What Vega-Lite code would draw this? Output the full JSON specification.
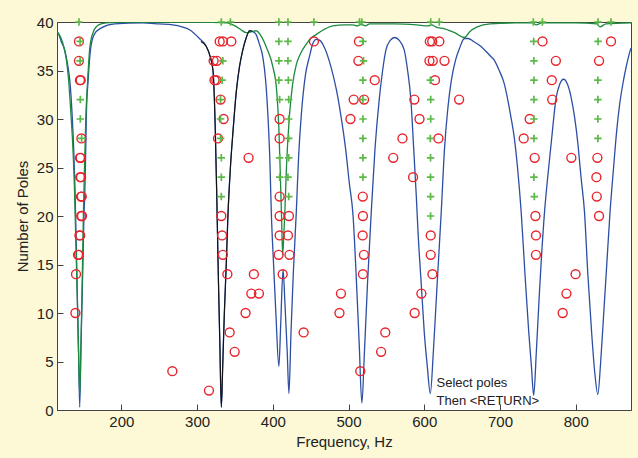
{
  "$schema": "https://vega.github.io/schema/vega-lite/v6.json",
  "width": 574,
  "height": 388,
  "autosize": {"type": "none"},
  "padding": {"left": 57, "top": 22, "right": 7, "bottom": 48},
  "background": "#fdf8d6",
  "config": {
    "view": {"fill": "white", "stroke": "#444", "strokeWidth": 1},
    "font": "Liberation Sans",
    "axis": {"grid": false, "domainColor": "#444", "tickColor": "#444", "labelColor": "#222", "titleColor": "#222", "labelFontSize": 15, "titleFontSize": 15, "titleFontWeight": "normal", "tickSize": -6, "labelFont": "Liberation Sans", "titleFont": "Liberation Sans"}
  },
  "datasets": {
    "curves": [
      {"series":"blue","freq":115,"poles":39.1},{"series":"blue","freq":117,"poles":38.8},{"series":"blue","freq":121,"poles":37.9},{"series":"blue","freq":124.4,"poles":37.3},{"series":"blue","freq":129,"poles":35.6},{"series":"blue","freq":132,"poles":33.9},{"series":"blue","freq":135,"poles":30.4},{"series":"blue","freq":137,"poles":27},{"series":"blue","freq":138.5,"poles":23.5},{"series":"blue","freq":139.6,"poles":20},{"series":"blue","freq":141,"poles":15},{"series":"blue","freq":142.3,"poles":10},{"series":"blue","freq":143.7,"poles":5},{"series":"blue","freq":145,"poles":0.3},{"series":"blue","freq":146.5,"poles":6},{"series":"blue","freq":148,"poles":11},{"series":"blue","freq":149.5,"poles":16},{"series":"blue","freq":150.6,"poles":20},{"series":"blue","freq":151.6,"poles":22},{"series":"blue","freq":153,"poles":27},{"series":"blue","freq":153.8,"poles":30.5},{"series":"blue","freq":156,"poles":33.9},{"series":"blue","freq":159.5,"poles":37.3},{"series":"blue","freq":164,"poles":38.7},{"series":"blue","freq":173.6,"poles":39.4},{"series":"blue","freq":191,"poles":39.8},{"series":"blue","freq":228,"poles":39.9},{"series":"blue","freq":250,"poles":39.8},{"series":"blue","freq":268,"poles":39.7},{"series":"blue","freq":280,"poles":39.5},{"series":"blue","freq":290,"poles":39.2},{"series":"blue","freq":303,"poles":38.3},{"series":"blue","freq":312,"poles":37.5},{"series":"blue","freq":317,"poles":36.5},{"series":"blue","freq":321,"poles":35},{"series":"blue","freq":324,"poles":29},{"series":"blue","freq":326,"poles":22},{"series":"blue","freq":328,"poles":14},{"series":"blue","freq":330,"poles":7},{"series":"blue","freq":332,"poles":0.3},{"series":"blue","freq":334,"poles":5},{"series":"blue","freq":336,"poles":10},{"series":"blue","freq":338.5,"poles":15},{"series":"blue","freq":340.7,"poles":20},{"series":"blue","freq":344,"poles":25},{"series":"blue","freq":347.3,"poles":28.6},{"series":"blue","freq":352,"poles":33},{"series":"blue","freq":356,"poles":35.4},{"series":"blue","freq":360,"poles":37},{"series":"blue","freq":365,"poles":38.4},{"series":"blue","freq":369.4,"poles":39.1},{"series":"blue","freq":374,"poles":39},{"series":"blue","freq":378,"poles":38.7},{"series":"blue","freq":382,"poles":37.8},{"series":"blue","freq":387,"poles":36.3},{"series":"blue","freq":390.5,"poles":34},{"series":"blue","freq":393.5,"poles":30.4},{"series":"blue","freq":396,"poles":26},{"series":"blue","freq":398,"poles":20.4},{"series":"blue","freq":401,"poles":15},{"series":"blue","freq":404,"poles":10},{"series":"blue","freq":408,"poles":4.5},{"series":"blue","freq":410.5,"poles":9},{"series":"blue","freq":413.5,"poles":14.5},{"series":"blue","freq":416,"poles":11},{"series":"blue","freq":419,"poles":6},{"series":"blue","freq":421.3,"poles":1.7},{"series":"blue","freq":424,"poles":8},{"series":"blue","freq":427,"poles":14},{"series":"blue","freq":431,"poles":20.4},{"series":"blue","freq":434,"poles":26},{"series":"blue","freq":437.6,"poles":30.4},{"series":"blue","freq":443,"poles":34.5},{"series":"blue","freq":448.6,"poles":36.5},{"series":"blue","freq":453,"poles":37.8},{"series":"blue","freq":457.4,"poles":38.2},{"series":"blue","freq":462,"poles":38.1},{"series":"blue","freq":468,"poles":37.4},{"series":"blue","freq":476.7,"poles":35.4},{"series":"blue","freq":484,"poles":33},{"series":"blue","freq":490,"poles":30.3},{"series":"blue","freq":496,"poles":27},{"series":"blue","freq":501,"poles":23.4},{"series":"blue","freq":506,"poles":20},{"series":"blue","freq":510,"poles":14},{"series":"blue","freq":514,"poles":7},{"series":"blue","freq":517.6,"poles":0.7},{"series":"blue","freq":521,"poles":6},{"series":"blue","freq":525,"poles":13},{"series":"blue","freq":530,"poles":20.4},{"series":"blue","freq":535,"poles":27},{"series":"blue","freq":540.5,"poles":32},{"series":"blue","freq":545,"poles":35},{"series":"blue","freq":549.3,"poles":37.1},{"series":"blue","freq":555,"poles":38.1},{"series":"blue","freq":561,"poles":38.4},{"series":"blue","freq":567,"poles":38.1},{"series":"blue","freq":573.6,"poles":37.1},{"series":"blue","freq":578,"poles":35},{"series":"blue","freq":582.3,"poles":32},{"series":"blue","freq":586,"poles":27},{"series":"blue","freq":589.5,"poles":22},{"series":"blue","freq":592,"poles":18},{"series":"blue","freq":596,"poles":13},{"series":"blue","freq":600,"poles":8},{"series":"blue","freq":604,"poles":4.5},{"series":"blue","freq":608,"poles":1.7},{"series":"blue","freq":612,"poles":6},{"series":"blue","freq":617,"poles":13},{"series":"blue","freq":622.4,"poles":20.4},{"series":"blue","freq":626.8,"poles":27},{"series":"blue","freq":631,"poles":31},{"series":"blue","freq":635.6,"poles":33.9},{"series":"blue","freq":641,"poles":36},{"series":"blue","freq":646.6,"poles":37.3},{"series":"blue","freq":653,"poles":38.3},{"series":"blue","freq":658,"poles":38.3},{"series":"blue","freq":665,"poles":38},{"series":"blue","freq":674.5,"poles":37.5},{"series":"blue","freq":686,"poles":36.6},{"series":"blue","freq":692.2,"poles":36.1},{"series":"blue","freq":699,"poles":35},{"series":"blue","freq":705.4,"poles":33.7},{"series":"blue","freq":714.2,"poles":30.3},{"series":"blue","freq":719,"poles":28},{"series":"blue","freq":723,"poles":25.1},{"series":"blue","freq":728,"poles":20.4},{"series":"blue","freq":733,"poles":14},{"series":"blue","freq":738,"poles":8},{"series":"blue","freq":741.5,"poles":4.5},{"series":"blue","freq":744.5,"poles":1.5},{"series":"blue","freq":748,"poles":6},{"series":"blue","freq":752,"poles":12},{"series":"blue","freq":758.8,"poles":20.4},{"series":"blue","freq":763,"poles":24},{"series":"blue","freq":767.6,"poles":27.5},{"series":"blue","freq":774.2,"poles":32.2},{"series":"blue","freq":779,"poles":33.6},{"series":"blue","freq":784,"poles":34.1},{"series":"blue","freq":789,"poles":33.6},{"series":"blue","freq":794,"poles":32.2},{"series":"blue","freq":802.8,"poles":27.5},{"series":"blue","freq":807,"poles":24},{"series":"blue","freq":811.6,"poles":20.4},{"series":"blue","freq":816,"poles":14},{"series":"blue","freq":821,"poles":8},{"series":"blue","freq":825,"poles":4},{"series":"blue","freq":829.2,"poles":1.6},{"series":"blue","freq":833,"poles":5},{"series":"blue","freq":837,"poles":10},{"series":"blue","freq":841,"poles":15},{"series":"blue","freq":845.3,"poles":20.4},{"series":"blue","freq":850,"poles":25},{"series":"blue","freq":854,"poles":28.7},{"series":"blue","freq":858,"poles":31.5},{"series":"blue","freq":862.9,"poles":33.9},{"series":"blue","freq":867,"poles":35.5},{"series":"blue","freq":871.7,"poles":37},{"series":"blue","freq":873,"poles":37.3},
      {"series":"black","freq":305,"poles":38.0},{"series":"black","freq":312,"poles":37.5},{"series":"black","freq":317,"poles":36.5},{"series":"black","freq":321,"poles":35},{"series":"black","freq":324,"poles":29},{"series":"black","freq":326,"poles":22},{"series":"black","freq":328,"poles":14},{"series":"black","freq":330,"poles":7},{"series":"black","freq":332,"poles":0.3},{"series":"black","freq":334,"poles":5},{"series":"black","freq":336,"poles":10},{"series":"black","freq":338.5,"poles":15},{"series":"black","freq":340.7,"poles":20},{"series":"black","freq":344,"poles":25},{"series":"black","freq":347.3,"poles":28.6},{"series":"black","freq":352,"poles":33},{"series":"black","freq":356,"poles":35.4},{"series":"black","freq":360,"poles":37},{"series":"black","freq":365,"poles":38.4},{"series":"black","freq":369.4,"poles":39.1},{"series":"black","freq":373,"poles":39.05},
      {"series":"green","freq":115,"poles":39.0},{"series":"green","freq":122,"poles":38.0},{"series":"green","freq":127,"poles":36.3},{"series":"green","freq":130,"poles":34.3},{"series":"green","freq":133,"poles":31},{"series":"green","freq":136,"poles":27},{"series":"green","freq":138,"poles":23},{"series":"green","freq":140,"poles":17},{"series":"green","freq":142,"poles":11},{"series":"green","freq":143.5,"poles":6},{"series":"green","freq":145,"poles":1.6},{"series":"green","freq":146.5,"poles":6},{"series":"green","freq":148,"poles":12},{"series":"green","freq":149.8,"poles":20},{"series":"green","freq":151,"poles":24},{"series":"green","freq":153,"poles":30},{"series":"green","freq":155.5,"poles":34},{"series":"green","freq":158.5,"poles":37.5},{"series":"green","freq":163,"poles":39},{"series":"green","freq":170,"poles":39.7},{"series":"green","freq":180,"poles":39.9},{"series":"green","freq":200,"poles":40},{"series":"green","freq":300,"poles":40},{"series":"green","freq":340,"poles":39.9},{"series":"green","freq":350,"poles":39.6},{"series":"green","freq":358,"poles":39.2},{"series":"green","freq":365,"poles":38.9},{"series":"green","freq":372,"poles":39.0},{"series":"green","freq":378,"poles":39.1},{"series":"green","freq":385,"poles":38.5},{"series":"green","freq":392,"poles":37.3},{"series":"green","freq":400,"poles":35.4},{"series":"green","freq":405,"poles":33},{"series":"green","freq":408,"poles":29},{"series":"green","freq":410,"poles":24},{"series":"green","freq":411.5,"poles":20},{"series":"green","freq":413,"poles":16},{"series":"green","freq":414.5,"poles":18},{"series":"green","freq":415.7,"poles":20},{"series":"green","freq":418,"poles":25},{"series":"green","freq":422,"poles":30.4},{"series":"green","freq":426,"poles":33.5},{"series":"green","freq":431,"poles":35.6},{"series":"green","freq":437,"poles":36.8},{"series":"green","freq":444,"poles":37.7},{"series":"green","freq":450,"poles":38.3},{"series":"green","freq":457,"poles":38.7},{"series":"green","freq":467,"poles":39.2},{"series":"green","freq":479,"poles":39.6},{"series":"green","freq":495,"poles":39.7},{"series":"green","freq":505,"poles":39.7},{"series":"green","freq":512,"poles":39.6},{"series":"green","freq":517,"poles":39.8},{"series":"green","freq":522,"poles":39.6},{"series":"green","freq":528,"poles":39.8},{"series":"green","freq":561,"poles":39.8},{"series":"green","freq":590,"poles":39.7},{"series":"green","freq":605,"poles":39.6},{"series":"green","freq":610,"poles":39.7},{"series":"green","freq":615,"poles":39.5},{"series":"green","freq":627,"poles":39.3},{"series":"green","freq":640,"poles":38.9},{"series":"green","freq":653,"poles":38.4},{"series":"green","freq":660,"poles":39.0},{"series":"green","freq":670,"poles":39.5},{"series":"green","freq":687,"poles":39.8},{"series":"green","freq":720,"poles":39.9},{"series":"green","freq":743,"poles":39.9},{"series":"green","freq":748,"poles":39.7},{"series":"green","freq":755,"poles":39.9},{"series":"green","freq":800,"poles":39.9},{"series":"green","freq":828,"poles":39.8},{"series":"green","freq":832,"poles":39.5},{"series":"green","freq":840,"poles":39.8},{"series":"green","freq":873,"poles":39.9}
    ],
    "circles": [
      {"freq":144,"poles":38},{"freq":144,"poles":36},{"freq":145.3,"poles":34},{"freq":146.3,"poles":34},{"freq":147.2,"poles":28},{"freq":145.3,"poles":26},{"freq":146.3,"poles":26},{"freq":145.7,"poles":24},{"freq":146.7,"poles":24},{"freq":146.7,"poles":22},{"freq":147.7,"poles":22},{"freq":147,"poles":20},{"freq":148,"poles":20},{"freq":144.6,"poles":18},{"freq":145.6,"poles":18},{"freq":142.8,"poles":16},{"freq":143.8,"poles":16},{"freq":140.1,"poles":14},{"freq":139.3,"poles":10},{"freq":267.3,"poles":4},{"freq":315.7,"poles":2},
      {"freq":329.8,"poles":38},{"freq":334.1,"poles":38},{"freq":345.2,"poles":38},{"freq":321.8,"poles":36},{"freq":326.2,"poles":36},{"freq":323,"poles":34},{"freq":325.4,"poles":34},{"freq":331,"poles":32},{"freq":335,"poles":30},{"freq":327.6,"poles":28},{"freq":368,"poles":26},{"freq":332,"poles":20},{"freq":333,"poles":18},{"freq":334,"poles":16},{"freq":340,"poles":14},{"freq":375,"poles":14},{"freq":371.6,"poles":12},{"freq":381.7,"poles":12},{"freq":364,"poles":10},{"freq":343,"poles":8},{"freq":349.6,"poles":6},
      {"freq":409,"poles":30},{"freq":409,"poles":28},{"freq":409,"poles":22},{"freq":409,"poles":20},{"freq":421.3,"poles":20},{"freq":409,"poles":18},{"freq":420,"poles":18},{"freq":407.7,"poles":16},{"freq":422,"poles":16},{"freq":413,"poles":14},{"freq":454.3,"poles":38},{"freq":440.7,"poles":8},
      {"freq":513.7,"poles":38},{"freq":513,"poles":36},{"freq":534.6,"poles":34},{"freq":506.8,"poles":32},{"freq":520.5,"poles":32},{"freq":502.5,"poles":30},{"freq":571.2,"poles":28},{"freq":559,"poles":26},{"freq":585.2,"poles":24},{"freq":518.8,"poles":22},{"freq":519,"poles":20},{"freq":518.6,"poles":18},{"freq":520.3,"poles":16},{"freq":519,"poles":14},{"freq":490,"poles":12},{"freq":488,"poles":10},{"freq":548.5,"poles":8},{"freq":543,"poles":6},{"freq":515.5,"poles":4},
      {"freq":607.3,"poles":38},{"freq":610.5,"poles":38},{"freq":619.9,"poles":38},{"freq":606.8,"poles":36},{"freq":611.2,"poles":36},{"freq":626.7,"poles":36},{"freq":614.2,"poles":34},{"freq":586.9,"poles":32},{"freq":646,"poles":32},{"freq":593.7,"poles":30},{"freq":618.7,"poles":28},{"freq":608.5,"poles":18},{"freq":608.5,"poles":16},{"freq":610.8,"poles":14},{"freq":596.2,"poles":12},{"freq":587.3,"poles":10},
      {"freq":756.1,"poles":38},{"freq":773.8,"poles":36},{"freq":768.4,"poles":34},{"freq":769,"poles":32},{"freq":739.2,"poles":30},{"freq":731.3,"poles":28},{"freq":745.8,"poles":26},{"freq":794.2,"poles":26},{"freq":746.8,"poles":20},{"freq":747.5,"poles":18},{"freq":747.5,"poles":16},{"freq":799.8,"poles":14},{"freq":787.7,"poles":12},{"freq":782.8,"poles":10},
      {"freq":846.6,"poles":38},{"freq":830.8,"poles":36},{"freq":828.6,"poles":26},{"freq":827.3,"poles":24},{"freq":827.8,"poles":22},{"freq":830.8,"poles":20}
    ],
    "pluses": [
      {"freq":144,"poles":40},{"freq":145.5,"poles":38},{"freq":145.5,"poles":36},{"freq":145.8,"poles":32},{"freq":145.8,"poles":30},{"freq":147.5,"poles":28},
      {"freq":332,"poles":40},{"freq":344,"poles":40},{"freq":334,"poles":36},{"freq":333,"poles":34},{"freq":331,"poles":32},{"freq":331,"poles":30},{"freq":331,"poles":28},{"freq":332,"poles":26},{"freq":332,"poles":24},{"freq":332,"poles":22},
      {"freq":408,"poles":40},{"freq":420,"poles":40},{"freq":454.3,"poles":40},{"freq":408,"poles":38},{"freq":420,"poles":38},{"freq":408,"poles":36},{"freq":420,"poles":36},{"freq":408,"poles":34},{"freq":420.5,"poles":34},{"freq":409,"poles":32},{"freq":421,"poles":32},{"freq":421,"poles":30},{"freq":421,"poles":28},{"freq":409,"poles":26},{"freq":421,"poles":26},{"freq":409,"poles":24},{"freq":420,"poles":24},{"freq":421,"poles":22},
      {"freq":514.4,"poles":40},{"freq":517.5,"poles":40},{"freq":519,"poles":38},{"freq":519.8,"poles":36},{"freq":519,"poles":34},{"freq":519,"poles":32},{"freq":519,"poles":30},{"freq":519,"poles":28},{"freq":519,"poles":26},{"freq":519,"poles":24},
      {"freq":608.5,"poles":40},{"freq":619.8,"poles":40},{"freq":608,"poles":34},{"freq":608.5,"poles":32},{"freq":608.5,"poles":30},{"freq":608,"poles":28},{"freq":608.3,"poles":26},{"freq":608.3,"poles":24},{"freq":608.3,"poles":22},{"freq":608.3,"poles":20},
      {"freq":744,"poles":40},{"freq":756,"poles":40},{"freq":744.5,"poles":38},{"freq":744.8,"poles":36},{"freq":744.8,"poles":34},{"freq":744.8,"poles":32},{"freq":744.8,"poles":30},{"freq":744.8,"poles":28},{"freq":744.8,"poles":24},{"freq":745.3,"poles":22},
      {"freq":829.5,"poles":40},{"freq":846.6,"poles":40},{"freq":829.5,"poles":38},{"freq":829.3,"poles":34},{"freq":829.3,"poles":32},{"freq":829.3,"poles":30},{"freq":829.3,"poles":28}
    ],
    "notes": [
      {"freq":616.2,"poles":2.37,"label":"Select poles"},
      {"freq":616.2,"poles":0.47,"label":"Then <RETURN>"}
    ]
  },
  "layer": [
    {
      "data": {"name": "curves"},
      "transform": [{"filter": "datum.series === 'blue'"}],
      "mark": {"type": "line", "color": "#2d4fa3", "strokeWidth": 1.3, "clip": true, "interpolate": "monotone"},
      "encoding": {
        "x": {"field": "freq", "type": "quantitative", "scale": {"domain": [115, 873], "nice": false, "zero": false}, "axis": {"title": "Frequency, Hz", "values": [200, 300, 400, 500, 600, 700, 800], "labelPadding": 10, "titlePadding": 5}},
        "y": {"field": "poles", "type": "quantitative", "scale": {"domain": [0, 40], "nice": false, "zero": false}, "axis": {"title": "Number of Poles", "values": [0, 5, 10, 15, 20, 25, 30, 35, 40], "labelPadding": 10, "titlePadding": 6}}
      }
    },
    {
      "data": {"name": "curves"},
      "transform": [{"filter": "datum.series === 'green'"}],
      "mark": {"type": "line", "color": "#1b8a3e", "strokeWidth": 1.3, "clip": true, "interpolate": "monotone"},
      "encoding": {
        "x": {"field": "freq", "type": "quantitative"},
        "y": {"field": "poles", "type": "quantitative"}
      }
    },
    {
      "data": {"name": "curves"},
      "transform": [{"filter": "datum.series === 'black'"}],
      "mark": {"type": "line", "color": "#111111", "strokeWidth": 1.1, "clip": true, "interpolate": "monotone"},
      "encoding": {
        "x": {"field": "freq", "type": "quantitative"},
        "y": {"field": "poles", "type": "quantitative"}
      }
    },
    {
      "data": {"name": "circles"},
      "mark": {"type": "point", "shape": "circle", "filled": false, "color": "#e8242b", "size": 80, "strokeWidth": 1.4, "opacity": 1},
      "encoding": {
        "x": {"field": "freq", "type": "quantitative"},
        "y": {"field": "poles", "type": "quantitative"}
      }
    },
    {
      "data": {"name": "pluses"},
      "mark": {"type": "point", "shape": "M-1,0L1,0M0,-1L0,1", "filled": false, "color": "#5cb947", "size": 56, "strokeWidth": 1.7, "opacity": 1},
      "encoding": {
        "x": {"field": "freq", "type": "quantitative"},
        "y": {"field": "poles", "type": "quantitative"}
      }
    },
    {
      "data": {"name": "notes"},
      "mark": {"type": "text", "align": "left", "baseline": "alphabetic", "fontSize": 13, "color": "#222", "font": "Liberation Sans"},
      "encoding": {
        "x": {"field": "freq", "type": "quantitative"},
        "y": {"field": "poles", "type": "quantitative"},
        "text": {"field": "label"}
      }
    }
  ]
}
